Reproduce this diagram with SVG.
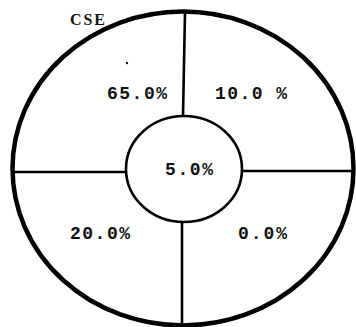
<svg xmlns="http://www.w3.org/2000/svg" width="356" height="327" viewBox="0 0 356 327">
<style>
.ring{fill:none;stroke:#000}
.ln{stroke:#000;stroke-width:2.6;fill:none}
.t{font-family:"Liberation Mono","DejaVu Sans Mono",monospace;font-weight:bold;font-size:18px;fill:#111}
.c{font-family:"Liberation Serif",serif;font-weight:bold;font-size:16px;fill:#111}
</style>
<rect width="356" height="327" fill="#fff"/>
<g id="outer"><ellipse class="ring" cx="183" cy="168.5" rx="170.5" ry="157" stroke-width="4.5"/></g>
<g id="connectors">
<line class="ln" x1="185" y1="12" x2="183" y2="116"/>
<line class="ln" x1="182" y1="222" x2="182" y2="327"/>
<line class="ln" x1="13" y1="172" x2="126" y2="172"/>
<line class="ln" x1="242" y1="171" x2="353" y2="171"/>
</g>
<g id="inner"><ellipse class="ring" cx="184" cy="169" rx="58" ry="53" stroke-width="2.6"/>
<text class="t" x="165" y="175" textLength="48" lengthAdjust="spacing">5.0%</text></g>
<g id="q1"><text class="t" x="107" y="99" textLength="60" lengthAdjust="spacing">65.0%</text>
<circle cx="127" cy="63" r="1.2" fill="#111"/></g>
<g id="q2"><text class="t" x="215" y="99" textLength="72" lengthAdjust="spacing">10.0 %</text></g>
<g id="q3"><text class="t" x="70" y="239" textLength="60" lengthAdjust="spacing">20.0%</text></g>
<g id="q4"><text class="t" x="238" y="239" textLength="49" lengthAdjust="spacing">0.0%</text></g>
<g id="label"><text class="c" x="70" y="25" textLength="35" lengthAdjust="spacing">CSE</text></g>
</svg>
